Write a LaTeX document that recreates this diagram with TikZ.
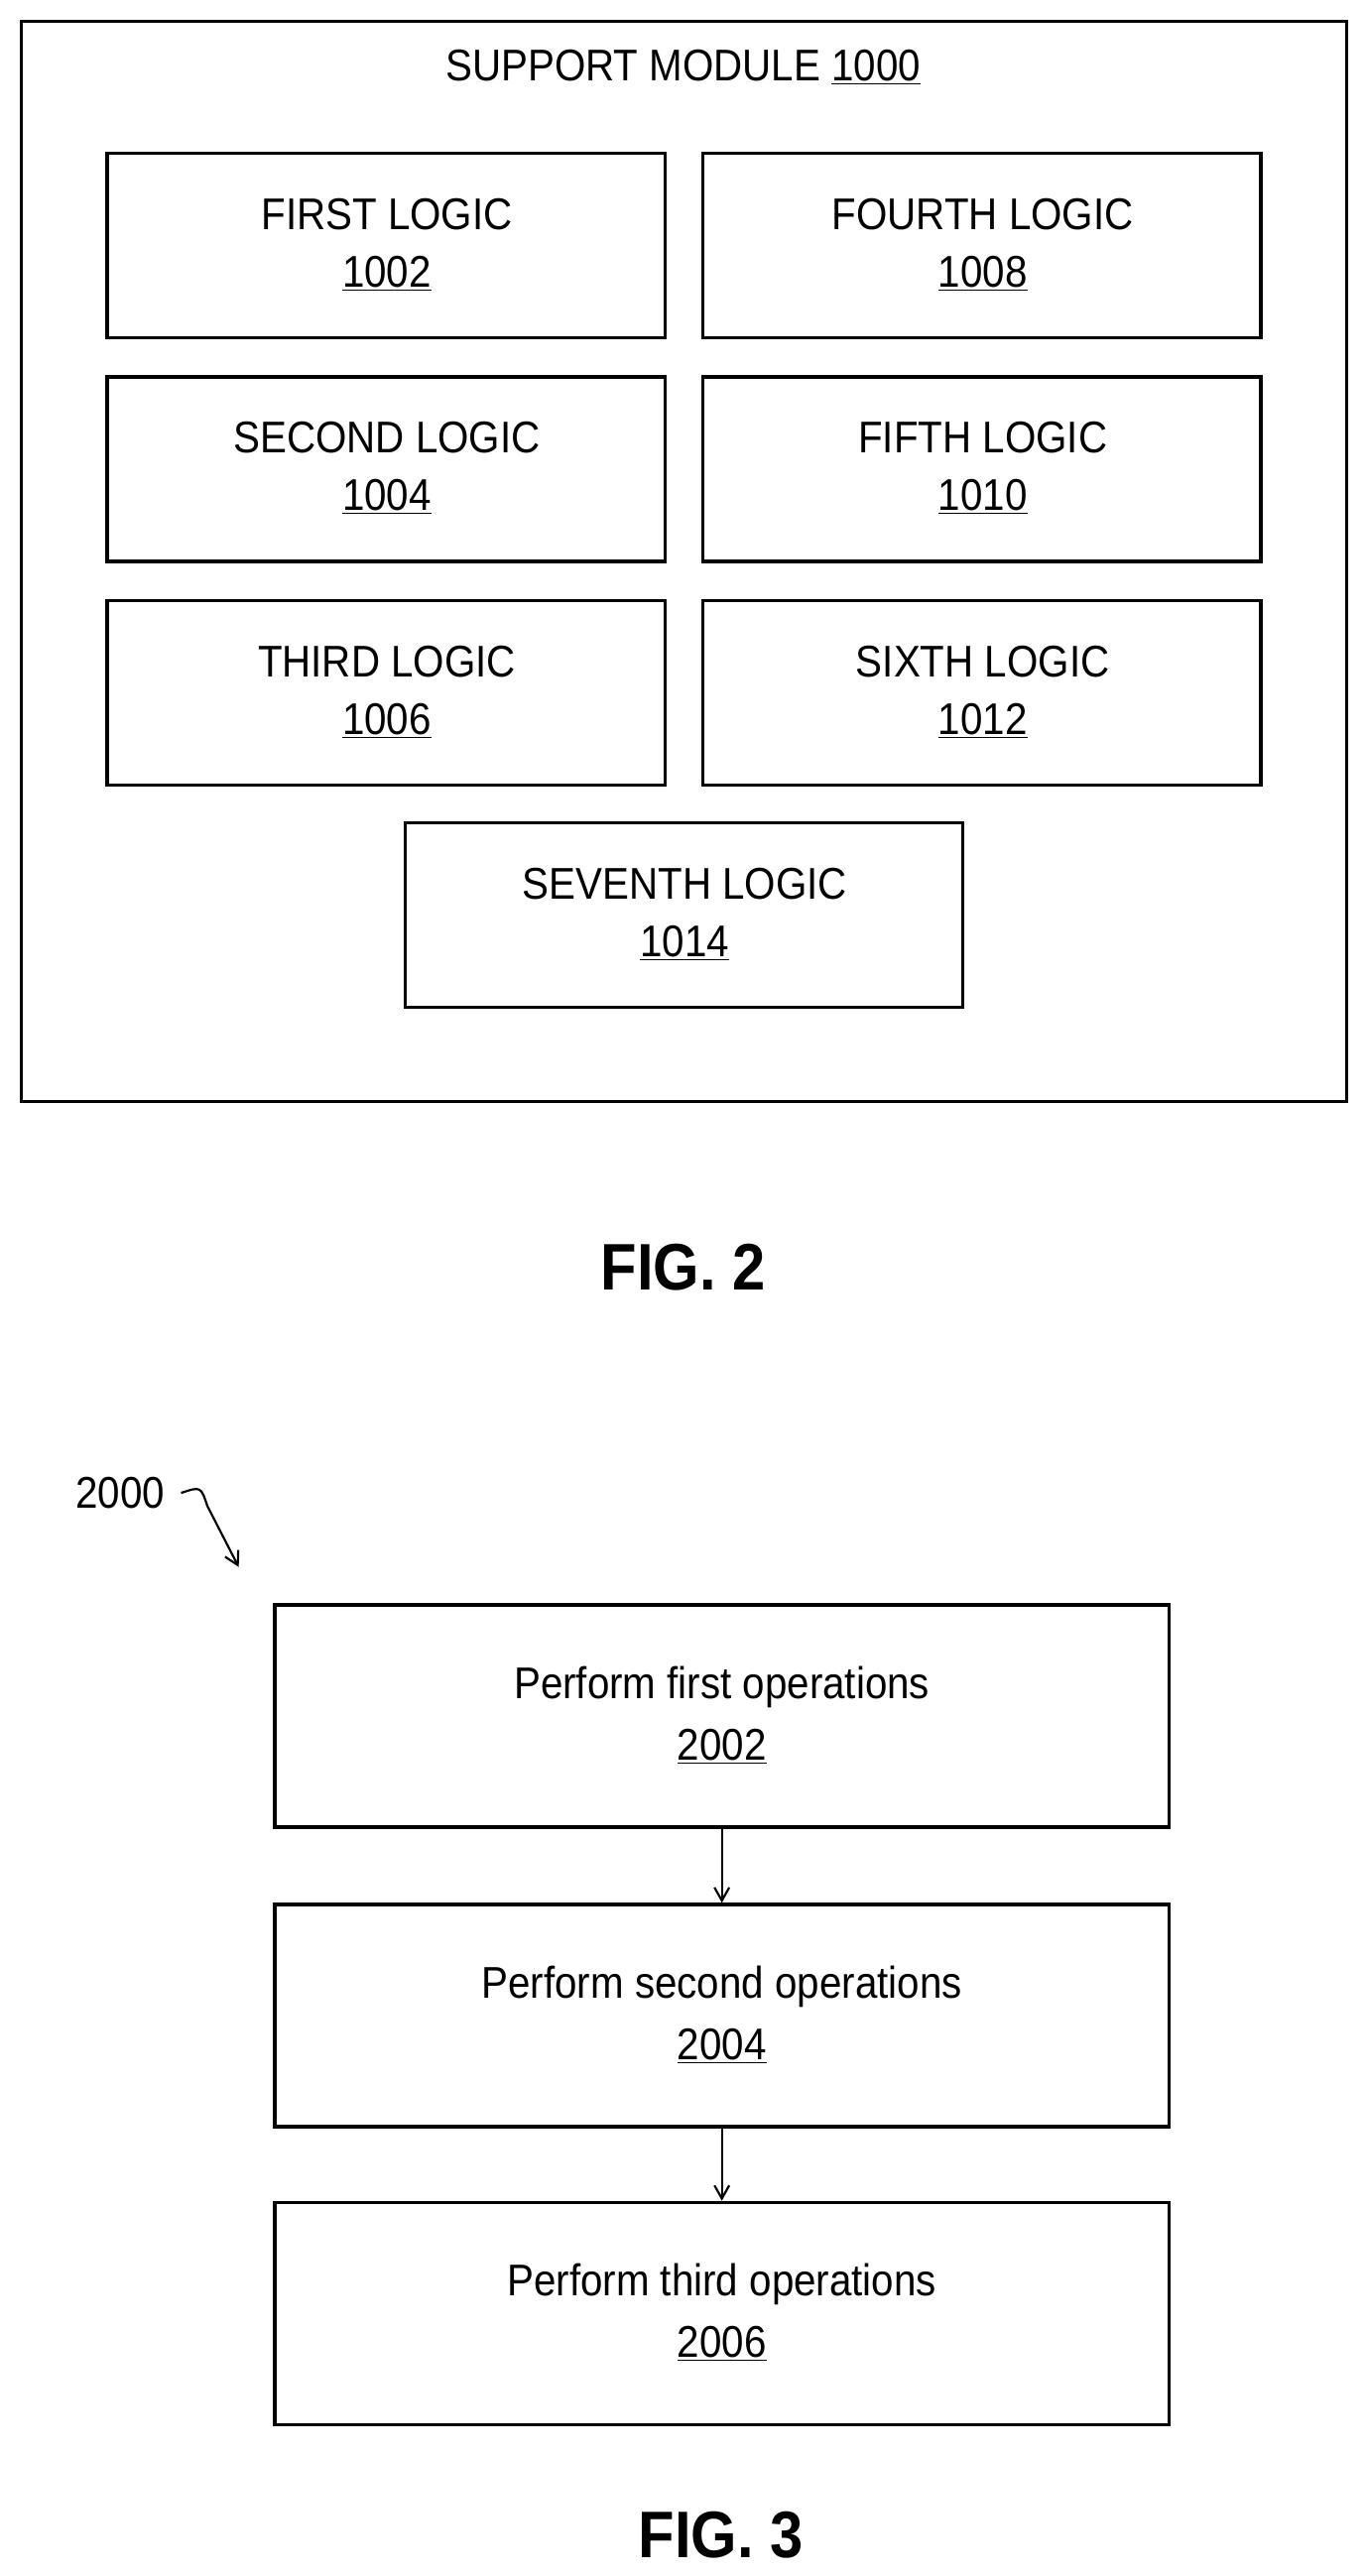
\documentclass[tikz,border=0pt]{standalone}
\usepackage{fontspec}
\setmainfont{Liberation Sans}[FakeStretch=0.9]
\usetikzlibrary{arrows.meta}
\begin{document}
\begin{tikzpicture}[x=1pt,y=-1pt,
 box/.style={draw,line width=2pt,inner sep=0pt},
 txt/.style={font=\fontsize{27}{32}\selectfont},
 arr/.style={-{Straight Barb[length=8pt,width=9pt]},line width=1.3pt}]
\useasboundingbox (0,0) rectangle (830,1565);
\draw[line width=2pt] (13,13) rectangle (818,669);
\node[txt] (title) at (415,41) {SUPPORT MODULE \underline{1000}};
\foreach \n/\x/\y/\t/\num in {a/65/93/FIRST LOGIC/1002, b/65/229/SECOND LOGIC/1004, c/65/365/THIRD LOGIC/1006, d/427/93/FOURTH LOGIC/1008, e/427/229/FIFTH LOGIC/1010, f/427/365/SIXTH LOGIC/1012, g/246/500/SEVENTH LOGIC/1014}{
 \draw[line width=2pt] (\x,\y) rectangle ++(339,112);
 \node[txt] (\n1) at (\x+170,\y+37) {\t};
 \node[txt] (\n2) at (\x+170,\y+73) {\underline{\num}};
}
\node[font=\bfseries\fontsize{40}{46}\selectfont] (f2) at (415,770) {FIG. 2};
\node[txt] (l2000) at (73,907) {2000};
\coordinate (s) at (110,907);
\coordinate (t) at (145,952);
\draw[arr] (s) .. controls (122,903) .. (126,915) -- (t);
\foreach \n/\y/\t/\num in {p/975/first/2002, q/1157/second/2004, r/1338/third/2006}{
 \node[box,minimum width=543pt,minimum height=135pt] (\n) at (438.5,\y+67.5) {};
 \node[txt] at (438.5,\y+50) {Perform \t\ operations};
 \node[txt] at (438.5,\y+86) {\underline{\num}};
}
\draw[arr] (p.south) -- (q.north);
\draw[arr] (q.south) -- (r.north);
\node[font=\bfseries\fontsize{40}{46}\selectfont] (f3) at (438,1540) {FIG. 3};
\end{tikzpicture}
\end{document}
